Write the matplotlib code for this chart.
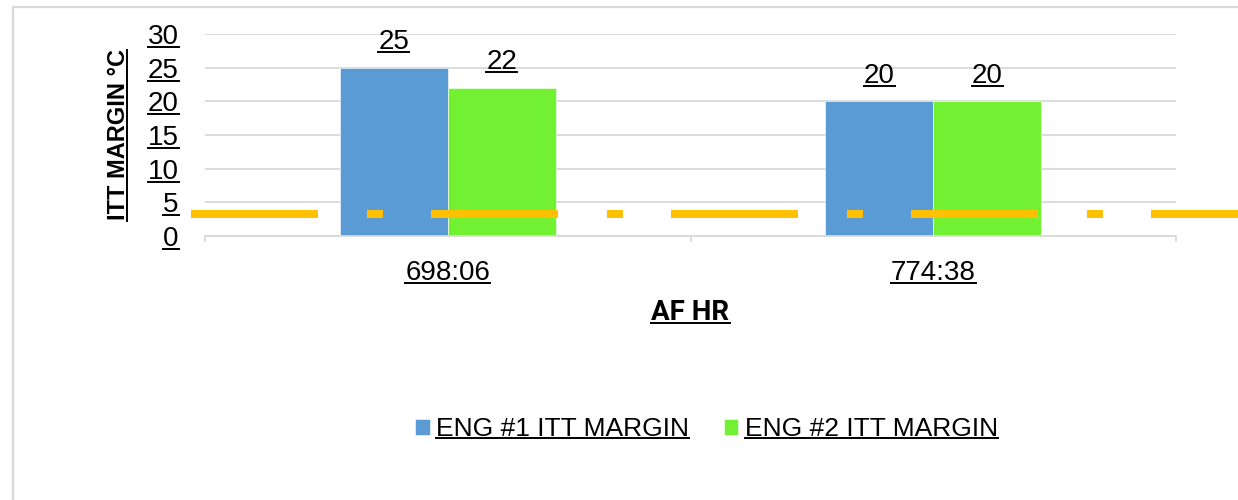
import matplotlib
matplotlib.use("Agg")
import matplotlib.pyplot as plt
from matplotlib.lines import Line2D
from matplotlib.patches import Rectangle
import numpy as np

# chart data
hours = ["698:06", "774:38"]
eng1_margin = [25, 20]
eng2_margin = [22, 20]
limit_value = 3.2
y_ticks = [0, 5, 10, 15, 20, 25, 30]

blue = "#5B9BD5"
green = "#72F032"
gold = "#FFC000"
grid_grey = "#D9D9D9"

plt.rcParams["font.family"] = ["Liberation Sans", "DejaVu Sans"]
plt.rcParams["lines.scale_dashes"] = False

W, H = 1238, 500
fig = plt.figure(figsize=(W / 100, H / 100), dpi=100)

# outer chart frame (only top/left edges fall inside the image)
fig.patches.append(Rectangle((13 / W, -0.2), 1.2, 1.2 - 7 / H + 0.0,
                             transform=fig.transFigure, fill=False,
                             edgecolor=grid_grey, lw=1.6))

ax = fig.add_axes([205 / W, 1 - 236 / H, 971 / W, 202 / H])

x = np.arange(len(hours))
w = 0.2225
b1 = ax.bar(x - w / 2, eng1_margin, w, color=blue, edgecolor="white", lw=0.4,
            label="ENG #1 ITT MARGIN", zorder=2)
b2 = ax.bar(x + w / 2, eng2_margin, w, color=green, edgecolor="white", lw=0.4,
            label="ENG #2 ITT MARGIN", zorder=2)

# limit line, runs past the plot area on both sides
ax.plot([-0.529, 1.8], [limit_value, limit_value], color=gold, lw=5.8,
        dashes=(91.4, 35.3, 11.5, 34.6), dash_capstyle="butt",
        clip_on=False, zorder=3)

ax.set_xlim(-0.5, 1.5)
ax.set_ylim(0, 30)
ax.set_yticks(y_ticks)
ax.grid(axis="y", color=grid_grey, lw=1.3, zorder=0)
ax.set_axisbelow(True)
for s in ["top", "right", "left"]:
    ax.spines[s].set_visible(False)
ax.spines["bottom"].set_color(grid_grey)
ax.spines["bottom"].set_linewidth(1.3)

ax.tick_params(axis="y", length=0, pad=19, labelsize=20)
ax.set_xticks(x)
ax.set_xticklabels(hours)
ax.tick_params(axis="x", which="major", length=0, pad=17, labelsize=20)
ax.set_xticks([-0.5, 0.5, 1.5], minor=True)
ax.tick_params(axis="x", which="minor", length=4, width=1.3, color=grid_grey)

bl1 = ax.bar_label(b1, padding=9, fontsize=20)
bl2 = ax.bar_label(b2, padding=9, fontsize=20)

ax.set_ylabel("ITT MARGIN °C", fontsize=17, fontweight="bold")
ax.yaxis.set_label_coords(-0.077, 0.5)
ax.set_xlabel("AF HR", fontsize=20, fontweight="bold",
              family=["Liberation Sans Narrow", "Roboto", "DejaVu Sans"])
ax.xaxis.set_label_coords(0.5, -0.31)

leg = fig.legend(handles=[b1, b2], loc="center", bbox_to_anchor=(706.5 / W, 1 - 429 / H),
                 ncol=2, frameon=False, fontsize=19, handlelength=0.55,
                 handleheight=0.55, handletextpad=0.25, columnspacing=1.3)

# underline every text element
fig.canvas.draw()
r = fig.canvas.get_renderer()
texts = (ax.get_yticklabels() + ax.get_xticklabels() + list(bl1) + list(bl2)
         + [ax.xaxis.label] + leg.get_texts())
for t in texts:
    if not t.get_text():
        continue
    bb = t.get_window_extent(r)
    yy = bb.y0 + 3
    fig.add_artist(Line2D([bb.x0 / W, bb.x1 / W], [yy / H, yy / H],
                          transform=fig.transFigure, color="black", lw=1.4))
bb = ax.yaxis.label.get_window_extent(r)
xx = bb.x1 - 3
fig.add_artist(Line2D([xx / W, xx / W], [bb.y0 / H, bb.y1 / H],
                      transform=fig.transFigure, color="black", lw=1.4))

fig.savefig("out.png", dpi=100)
